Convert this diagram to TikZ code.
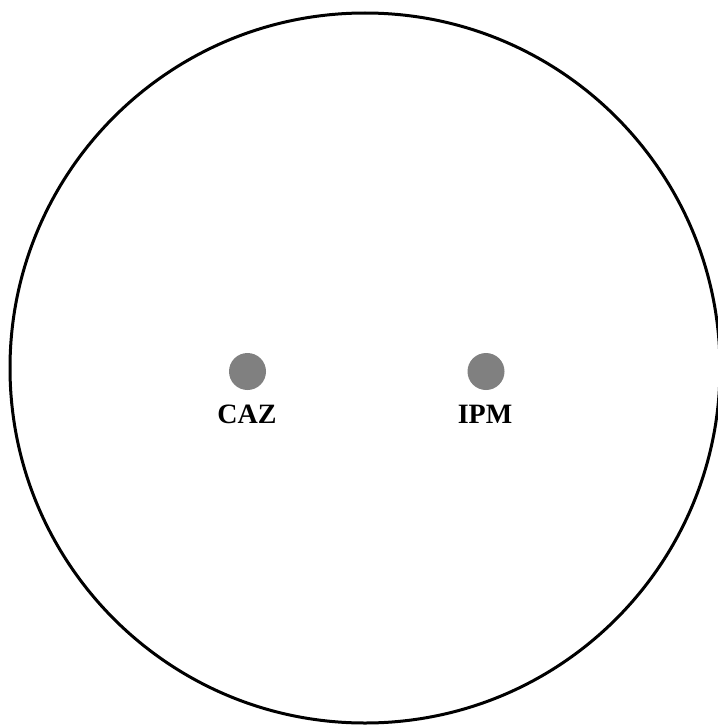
\documentclass[tikz,border=0pt]{standalone}
\usepackage{fontspec}
\setmainfont{Liberation Serif}
\begin{document}
\begin{tikzpicture}[x=1pt,y=-1pt,
  dot/.style={circle,fill=black!50,draw=none,minimum size=37pt,inner sep=0pt},
  lbl/.style={font=\fontsize{28}{30}\selectfont\bfseries,inner sep=0pt}]
\useasboundingbox (0,0) rectangle (717,725);
\draw[line width=3pt] (365,368) circle (355);
\node[dot] (caz) at (247.5,371.5) {};
\node[dot] (ipm) at (486,371.5) {};
\node[lbl] (cazl) at (247,414) {CAZ};
\node[lbl] (ipml) at (485,414) {IPM};
\end{tikzpicture}
\end{document}
